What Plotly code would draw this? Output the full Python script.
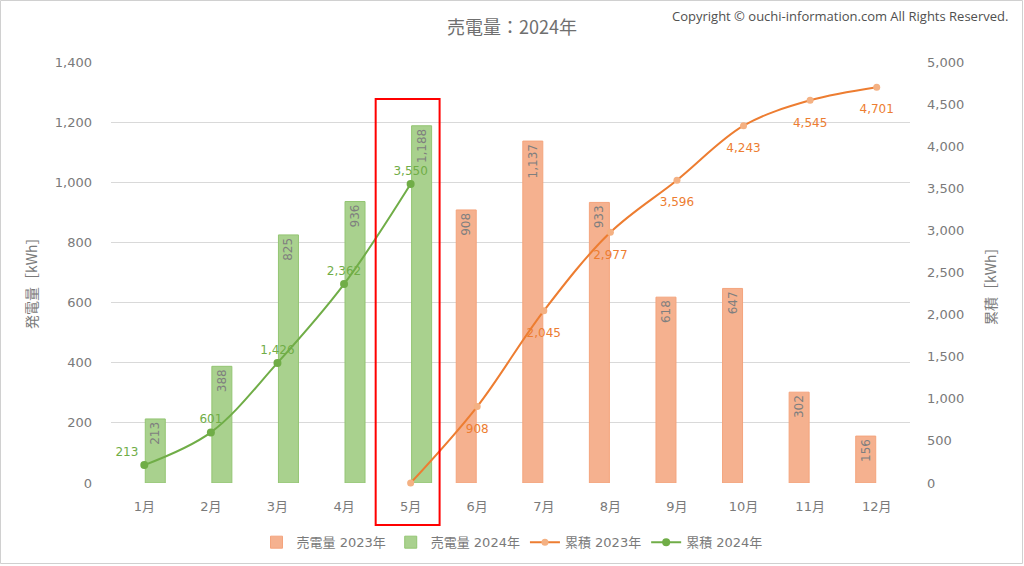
import plotly.graph_objects as go

months = ["1月", "2月", "3月", "4月", "5月", "6月", "7月", "8月", "9月", "10月", "11月", "12月"]
sales_2023 = [None, None, None, None, None, 908, 1137, 933, 618, 647, 302, 156]
sales_2024 = [213, 388, 825, 936, 1188, None, None, None, None, None, None, None]
cum_2023 = [None, None, None, None, 0, 908, 2045, 2977, 3596, 4243, 4545, 4701]
cum_2024 = [213, 601, 1426, 2362, 3550, None, None, None, None, None, None, None]
left_ticks = [0, 200, 400, 600, 800, 1000, 1200, 1400]
right_ticks = [0, 500, 1000, 1500, 2000, 2500, 3000, 3500, 4000, 4500, 5000]

W, H = 1024, 566
ML, MR, MT, MB = 111, 114, 62, 83
PW, PH = W - ML - MR, H - MT - MB

def px(x):
    return (x - ML) / PW

def py(y):
    return (H - MB - y) / PH

FONT = "DejaVu Sans, Noto Sans CJK JP"
GRAY = "#7a7a7a"

def fmt(v):
    return "" if v is None else f"{v:,}"

fig = go.Figure()
fig.add_trace(go.Bar(
    x=months, y=sales_2023, name="売電量 2023年",
    marker=dict(color="#f5b18f", line=dict(color="#f4a47d", width=1)),
    text=[fmt(v) for v in sales_2023], textposition="inside", insidetextanchor="end",
    textangle=-90, textfont=dict(color="#7f7f7f", size=12, family=FONT),
    constraintext="none", cliponaxis=False,
))
fig.add_trace(go.Bar(
    x=months, y=sales_2024, name="売電量 2024年",
    marker=dict(color="#a9d18e", line=dict(color="#93c572", width=1)),
    text=[fmt(v) for v in sales_2024], textposition="inside", insidetextanchor="end",
    textangle=-90, textfont=dict(color="#7f7f7f", size=12, family=FONT),
    constraintext="none", cliponaxis=False,
))
lab23 = [fmt(v) if (v is not None and v > 0) else "" for v in cum_2023]
fig.add_trace(go.Scatter(
    x=months, y=cum_2023, name="累積 2023年", yaxis="y2",
    mode="lines+markers", line=dict(color="#ed7d31", width=2, shape="spline", smoothing=1),
    marker=dict(color="#f4b183", size=7), cliponaxis=False,
))
# data labels for 2023 cumulative (placed a bit further below the points)
fig.add_trace(go.Scatter(
    x=months, y=cum_2023, yaxis="y2", showlegend=False, hoverinfo="skip",
    mode="markers+text", marker=dict(size=26, opacity=0),
    text=lab23, textposition="bottom center",
    textfont=dict(color="#ed7d31", size=12, family=FONT), cliponaxis=False,
))
pos24 = ["top left"] + ["top center"] * 11
fig.add_trace(go.Scatter(
    x=months, y=cum_2024, name="累積 2024年", yaxis="y2",
    mode="lines+markers+text", line=dict(color="#70ad47", width=2, shape="spline", smoothing=1),
    marker=dict(color="#70ad47", size=8),
    text=[fmt(v) for v in cum_2024], textposition=pos24,
    textfont=dict(color="#70ad47", size=12, family=FONT), cliponaxis=False,
))

fig.update_layout(
    width=W, height=H,
    margin=dict(l=ML, r=MR, t=MT, b=MB),
    paper_bgcolor="white", plot_bgcolor="white",
    barmode="group", bargap=0.34, bargroupgap=0.09,
    font=dict(family=FONT, color=GRAY, size=13),
    showlegend=True,
    legend=dict(orientation="h", xref="container", yref="container", x=0.5, y=0.042,
                xanchor="center", yanchor="middle", font=dict(size=13, color=GRAY),
                traceorder="normal"),
    xaxis=dict(type="category", range=[-0.5, 11.5], autorange=False, showgrid=False,
               zeroline=False, showline=False,
               ticks="", tickfont=dict(size=13, color=GRAY), ticklabelstandoff=14),
    yaxis=dict(range=[0, 1400], tickvals=left_ticks, tickformat=",", showgrid=True,
               gridcolor="#d9d9d9", gridwidth=1, zeroline=False, showline=False,
               ticks="", tickfont=dict(size=13, color=GRAY), ticklabelstandoff=18),
    yaxis2=dict(range=[0, 5000], tickvals=right_ticks, tickformat=",", overlaying="y",
                side="right", showgrid=False, zeroline=False, showline=False, ticks="",
                tickfont=dict(size=13, color=GRAY), ticklabelstandoff=16),
)

fig.add_annotation(text="売電量：2024年", xref="paper", yref="paper",
                   x=px(512), y=py(26), xanchor="center", yanchor="middle", showarrow=False,
                   font=dict(size=18, color="#6f6f6f", family="Noto Sans CJK JP"))
fig.add_annotation(text="Copyright © ouchi-information.com All Rights Reserved.", xref="paper", yref="paper",
                   x=px(1010), y=py(16), xanchor="right", yanchor="middle", showarrow=False,
                   font=dict(size=13, color="#505050", family="Open Sans"))
fig.add_annotation(text="発電量［kWh］", xref="paper", yref="paper", x=px(31), y=py(280),
                   xanchor="center", yanchor="middle", textangle=-90, showarrow=False,
                   font=dict(size=14, color=GRAY, family="Noto Sans CJK JP"))
fig.add_annotation(text="累積［kWh］", xref="paper", yref="paper", x=px(990), y=py(283),
                   xanchor="center", yanchor="middle", textangle=-90, showarrow=False,
                   font=dict(size=14, color=GRAY, family="Noto Sans CJK JP"))

# highlight box around May
fig.add_shape(type="rect", xref="x", yref="paper", x0=3.475, x1=4.435, y0=py(525), y1=py(99),
              line=dict(color="#ff0000", width=2), fillcolor="rgba(0,0,0,0)", layer="above")
# outer border
fig.add_shape(type="rect", xref="paper", yref="paper", x0=px(0.5), x1=px(1022.5), y0=py(563.5), y1=py(0.5),
              line=dict(color="#d0d0d0", width=1), fillcolor="rgba(0,0,0,0)", layer="below")

fig.write_html("out.html")
